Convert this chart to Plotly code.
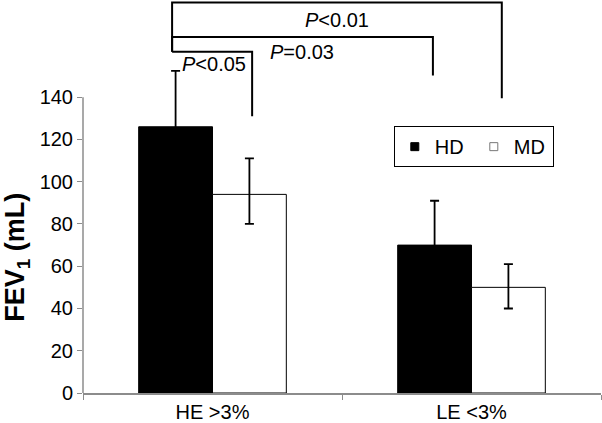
import plotly.graph_objects as go

# FEV1 by group and dose
groups = ["HE >3%", "LE <3%"]
hd_values = [126, 70]
hd_err = [26.5, 21]
md_values = [94, 50]
md_err_plus = [17, 11]
md_err_minus = [14, 10]

y_ticks = [0, 20, 40, 60, 80, 100, 120, 140]

# significance brackets: (right end x, top y, right leg bottom y, label)
p_labels = ["<i>P</i>&lt;0.05", "<i>P</i>=0.03", "<i>P</i>&lt;0.01"]
p_right = [0.153, 0.851, 1.117]
p_top = [161.5, 168.5, 184.8]
p_bottom = [131, 150.3, 139.5]

FONT = "Liberation Sans, Arial, sans-serif"
GRAY = "#8c8c8c"

fig = go.Figure()
fig.add_trace(go.Bar(
    name="HD", x=groups, y=hd_values, showlegend=False,
    marker=dict(color="black", line=dict(color="black", width=1)),
    error_y=dict(type="data", array=hd_err, color="black", thickness=1.8, width=4.5),
))
fig.add_trace(go.Bar(
    name="MD", x=groups, y=md_values, showlegend=False,
    marker=dict(color="white", line=dict(color="black", width=1)),
    error_y=dict(type="data", symmetric=False, array=md_err_plus, arrayminus=md_err_minus,
                 color="black", thickness=1.8, width=4.5),
))
# small square legend keys like the original
fig.add_trace(go.Scatter(name="HD", x=[None], y=[None], mode="markers",
                         marker=dict(symbol="square", size=8, color="black",
                                     line=dict(color="black", width=1))))
fig.add_trace(go.Scatter(name="MD", x=[None], y=[None], mode="markers",
                         marker=dict(symbol="square", size=8, color="white",
                                     line=dict(color="#777777", width=1))))

left_x = -0.156
low_top = min(p_top)
for rx, top, bot, lab in zip(p_right, p_top, p_bottom, p_labels):
    fig.add_shape(type="path",
                  path=f"M {left_x},{low_top} L {left_x},{top} L {rx},{top} L {rx},{bot}",
                  xref="x", yref="y", line=dict(color="black", width=2))

text_pos = [(-0.125, 155.6), (0.214, 161.2), (0.349, 176.6)]
for (tx, ty), lab in zip(text_pos, p_labels):
    fig.add_annotation(x=tx, y=ty, xref="x", yref="y", text=lab, showarrow=False,
                       xanchor="left", yanchor="middle", font=dict(size=20, color="black"))

# y axis line only up to 140
fig.add_shape(type="line", xref="paper", yref="y", x0=0, x1=0, y0=0, y1=140,
              line=dict(color=GRAY, width=1.5))

fig.add_annotation(xref="paper", yref="y", x=0, xshift=-85, y=64,
                   text="<b>FEV<sub>1</sub> (mL)</b>", textangle=-90, showarrow=False,
                   font=dict(size=27, color="black"))

fig.update_layout(
    width=602, height=423,
    margin=dict(l=83, r=1, t=0, b=25),
    barmode="group", bargap=0.43, bargroupgap=0,
    plot_bgcolor="white", paper_bgcolor="white",
    font=dict(family=FONT, size=20, color="black"),
    showlegend=True,
    legend=dict(orientation="h", x=0.6, y=0.679, xanchor="left", yanchor="top",
                bordercolor="black", borderwidth=1, font=dict(size=20),
                itemwidth=30, entrywidth=34, tracegroupgap=0, bgcolor="white"),
    xaxis=dict(range=[-0.5, 1.5], showline=True, linecolor=GRAY, linewidth=1.5,
               ticks="outside", tickson="boundaries", ticklen=5, tickcolor=GRAY,
               showgrid=False, zeroline=False, tickfont=dict(size=20)),
    yaxis=dict(range=[0, 186], tickvals=y_ticks, showline=False, ticks="outside",
               ticklen=5, tickcolor=GRAY, showgrid=False, zeroline=False,
               tickfont=dict(size=20)),
)

fig.write_html("out.html", config={"displayModeBar": False},
               post_script="document.body.style.margin='0';")
